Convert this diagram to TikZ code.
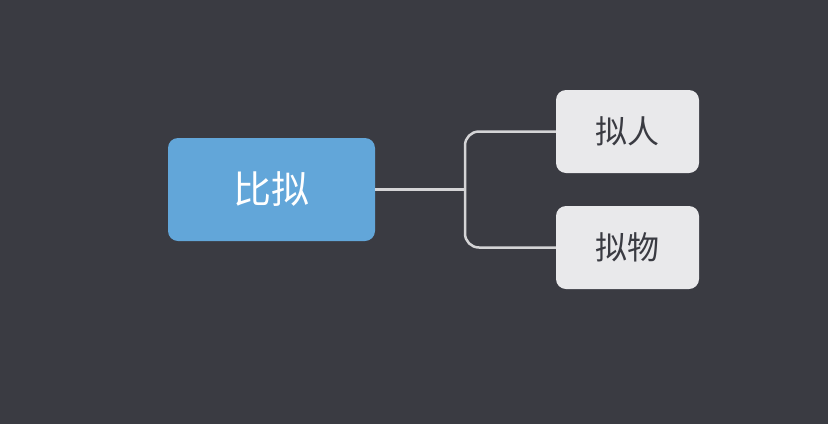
\documentclass[tikz,border=0pt]{standalone}
\usepackage{fontspec}
\newfontfamily\cjk{Noto Sans CJK SC}
\definecolor{bg}{HTML}{3A3B42}
\definecolor{mainc}{HTML}{62A6D9}
\definecolor{subc}{HTML}{E9E9EB}
\definecolor{linec}{HTML}{D4D4D6}
\begin{document}
\begin{tikzpicture}[x=1pt,y=-1pt,
  mainnode/.style={fill=mainc,rounded corners=10pt,minimum width=207pt,minimum height=103pt,text=white,font=\cjk\fontsize{38}{40}\selectfont,inner sep=0pt},
  subnode/.style={fill=subc,rounded corners=10pt,minimum width=143pt,minimum height=83pt,text=bg,font=\cjk\fontsize{32}{34}\selectfont,inner sep=0pt},
  conn/.style={draw=linec,line width=2.5pt,rounded corners=14pt}]
\fill[bg] (0,0) rectangle (828,424);
\node[mainnode] (m) at (271.5,189.5) {比拟};
\node[subnode] (a) at (627.5,131.5) {拟人};
\node[subnode] (b) at (627.5,247.5) {拟物};
\coordinate (j) at (465,189.5);
\draw[conn] (m.east) -- (j);
\draw[conn] (a.west) -| (j) |- (b.west);
\end{tikzpicture}
\end{document}
